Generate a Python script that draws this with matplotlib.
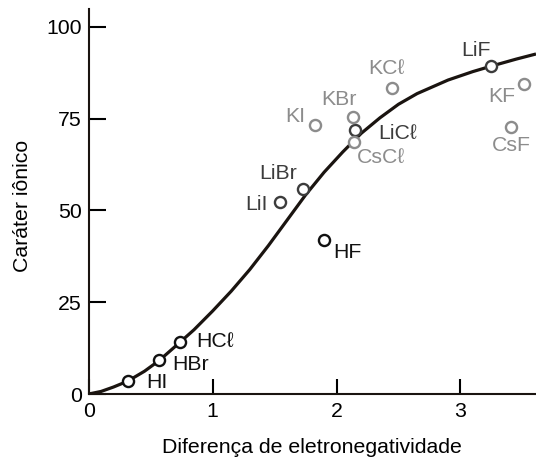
import matplotlib.pyplot as plt

plt.rcParams['font.family'] = ['Liberation Sans', 'DejaVu Sans']

# curve
curve_x = [0, 0.1, 0.2, 0.315, 0.45, 0.568, 0.737, 0.85, 1.0, 1.15, 1.3, 1.45, 1.6,
           1.75, 1.9, 2.05, 2.2, 2.35, 2.5, 2.65, 2.9, 3.1, 3.25, 3.45, 3.61]
curve_y = [0, 0.7, 1.9, 3.5, 6.2, 9.1, 14.1, 17.5, 22.6, 28.0, 33.9, 40.4, 47.3,
           54.2, 60.4, 65.9, 71.0, 75.2, 78.9, 81.8, 85.5, 87.8, 89.3, 91.2, 92.6]

# compounds
names = ['HI', 'HBr', 'HCℓ', 'HF', 'LiI', 'LiBr', 'LiCℓ', 'LiF',
         'KI', 'KBr', 'KCℓ', 'KF', 'CsCℓ', 'CsF']
delta_en = [0.315, 0.568, 0.737, 1.895, 1.545, 1.729, 2.148, 3.247,
            1.826, 2.132, 2.447, 3.51, 2.143, 3.409]
ionic = [3.5, 9.2, 14.2, 42.0, 52.3, 55.8, 72.0, 89.3,
         73.2, 75.4, 83.4, 84.5, 68.7, 72.6]
group = ['H', 'H', 'H', 'H', 'Li', 'Li', 'Li', 'Li',
         'K', 'K', 'K', 'K', 'Cs', 'Cs']

colors = {'H': '#111111', 'Li': '#3c3c3c', 'K': '#8c8c8c', 'Cs': '#8c8c8c'}
# label offsets in points (layout only)
offsets = {'HI': (21, -1), 'HBr': (23, -3), 'HCℓ': (25, 0), 'HF': (17, -9),
           'LiI': (-17, -2), 'LiBr': (-18, 11), 'LiCℓ': (31, -3), 'LiF': (-11, 11),
           'KI': (-14, 6), 'KBr': (-10, 12.5), 'KCℓ': (-4, 14), 'KF': (-16, -9),
           'CsCℓ': (19, -11), 'CsF': (0, -13)}

fs = 15.3

fig = plt.figure(figsize=(5.36, 4.59), dpi=100)
ax = fig.add_axes([0.1655, 0.1416, 0.8345, 0.8384])

ax.plot(curve_x, curve_y, color='#1a1410', lw=2.3, zorder=2, solid_capstyle='butt',
        solid_joinstyle='round')

for n, x, y, g in zip(names, delta_en, ionic, group):
    c = colors[g]
    ax.plot(x, y, 'o', ms=8, mfc='white', mec=c, mew=1.7, zorder=3)
    ax.annotate(n, (x, y), xytext=offsets[n], textcoords='offset points',
                ha='center', va='center', fontsize=fs, color=c)

ax.set_xlim(0, 3.61)
ax.set_ylim(0, 104.8)
ax.set_xticks([0, 1, 2, 3])
ax.set_yticks([0, 25, 50, 75, 100])
for s in ['top', 'right']:
    ax.spines[s].set_visible(False)
for s in ['left', 'bottom']:
    ax.spines[s].set_linewidth(1.5)
    ax.spines[s].set_color('#1a1410')
ax.tick_params(axis='y', direction='in', length=12.5, width=1.5, pad=5, labelsize=fs)
ax.tick_params(axis='x', direction='in', length=11, width=1.5, pad=5.5, labelsize=fs)

ax.set_xlabel('Diferença de eletronegatividade', fontsize=fs, va='center')
ax.xaxis.set_label_coords(0.5, -0.138)
ax.set_ylabel('Caráter iônico', fontsize=fs, va='center')
ax.yaxis.set_label_coords(-0.148, 0.489)

fig.savefig('out.png', dpi=100)
